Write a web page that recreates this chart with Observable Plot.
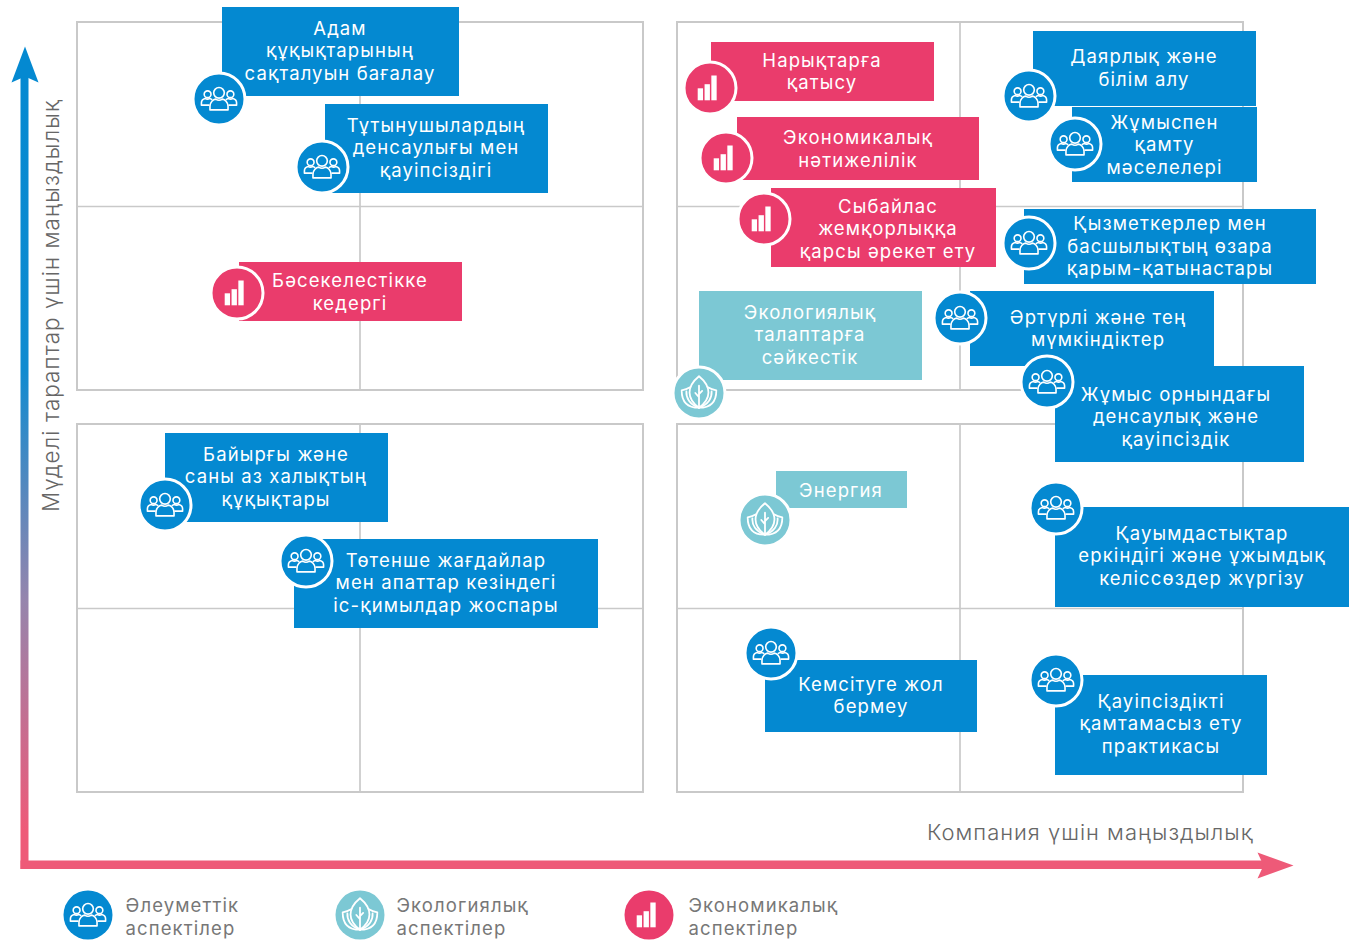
<!DOCTYPE html>
<html>
<head>
<meta charset="utf-8">
<script src="https://cdn.jsdelivr.net/npm/d3@7"></script>
<script src="https://cdn.jsdelivr.net/npm/@observablehq/plot@0.6"></script>
<style>html,body{margin:0;padding:0;background:#fff}svg{display:block}</style>
</head>
<body>
<div id="chart"></div>
<script>
// Topics, one entry per position
const labels = [
 "Адам\nқұқықтарының\nсақталуын бағалау","Тұтынушылардың\nденсаулығы мен\nқауіпсіздігі","Бәсекелестікке\nкедергі",
 "Байырғы және\nсаны аз халықтың\nқұқықтары","Төтенше жағдайлар\nмен апаттар кезіндегі\nіс-қимылдар жоспары",
 "Нарықтарға\nқатысу","Экономикалық\nнәтижелілік","Сыбайлас\nжемқорлыққа\nқарсы әрекет ету",
 "Экологиялық\nталаптарға\nсәйкестік","Энергия","Кемсітуге жол\nбермеу",
 "Даярлық және\nбілім алу","Жұмыспен\nқамту\nмәселелері","Қызметкерлер мен\nбасшылықтың өзара\nқарым-қатынастары",
 "Әртүрлі және тең\nмүмкіндіктер","Жұмыс орнындағы\nденсаулық және\nқауіпсіздік",
 "Қауымдастықтар\nеркіндігі және ұжымдық\nкеліссөздер жүргізу","Қауіпсіздікті\nқамтамасыз ету\nпрактикасы"];
const aspects = ["s","s","e","s","s","e","e","e","g","g","s","s","s","s","s","s","s","s"];
const boxX1 = [222,325,239,165,294,711,737,771,699,776,765,1033,1072,1024,970,1055,1055,1055];
const boxX2 = [459,548,462,388,598,934,979,996,922,907,977,1256,1257,1316,1214,1304,1349,1267];
const boxY1 = [7,104,262,433,539,42,117,188,291,471,660,31,107,209,291,366,507,675];
const boxY2 = [96,193,321,522,628,101,180,267,380,508,732,106,182,284,366,462,607,775];
const iconX = [218.5,321.5,236.5,164.5,305.5,709.5,725.5,763.5,698.5,764.5,770.5,1028.5,1074.5,1028.5,959.5,1046.5,1055.5,1055.5];
const iconY = [98.5,166.5,292.5,504.5,560.5,87.5,157.5,218.5,392.5,519.5,652.5,95.5,143.5,242.5,317.5,381.5,507.5,679.5];
const textX = [339.5,435.5,349.5,275.5,445.5,821.5,857.5,887.5,809.5,840.5,870.5,1143.5,1164,1169.5,1097.5,1175.5,1201.5,1160.5];
const textY = [49.5,146.5,291,475.5,581.5,70.5,148,227.5,333.5,489.5,694.5,67,143.5,245,327.5,415.5,554.5,722.5];

// Legend
const legendLabels = ["Әлеуметтік\nаспектілер","Экологиялық\nаспектілер","Экономикалық\nаспектілер"];
const legendAspects = ["s","g","e"];
const legendX = [87.5,359.5,648.5];
const legendTextX = [125,396,688];
const legendIconY = 914.5;
const legendTextY = 916;

// Matrix panels
const panelX1 = [77,677,77,677];
const panelX2 = [643,1243,643,1243];
const panelY1 = [22,22,424,424];
const panelY2 = [390,390,792,792];
const panelMidX = [359.5,959.5,359.5,959.5];
const panelMidY = [206,206,608,608];

// Axis arrows
const upShaft = {x1:20.5,x2:28.5,y1:76,y2:869};
const rightShaft = {x1:20.5,x2:1266,y1:860.5,y2:869};
const upHead = [[24.5,46],[38,82],[24.5,76],[11,82]];
const rightHead = [[1293,865],[1257,878],[1263,865],[1257,852]];

const colors = {s:"#0489d1",g:"#7cc8d4",e:"#ea3c6c"};
const iconSize = {s:38,g:42,e:41};
const gridColor = "#c9c9c9";
const font = "Inter, 'Noto Sans', sans-serif";

const wrap = s => "data:image/svg+xml," + encodeURIComponent(`<svg xmlns="http://www.w3.org/2000/svg" viewBox="0 0 40 40">${s}</svg>`);
const line = 'fill="none" stroke="#fff" stroke-width="1.7" stroke-linejoin="round" stroke-linecap="round"';
const icons = {
 s: wrap(`<g ${line}><circle cx="20" cy="13.5" r="5.6"/><path d="M10.5 31.5v-3.8c0-4.500 3.500-7.200 6-7.600 2 1.400 5 1.400 7 0 2.500.4 6 3.100 6 7.600v3.800z"/><circle cx="8" cy="15" r="3.600"/><path d="M9.500 26.500H1.500v-2.500c0-2.600 2.200-4.200 4-4.600 1.400.9 3.200.9 4.600 0 .8.2 1.600.6 2.200 1.100"/><circle cx="32" cy="15" r="3.600"/><path d="M30.500 26.500h8v-2.500c0-2.600-2.200-4.200-4-4.600-1.400.9-3.200.9-4.600 0-.8.2-1.600.6-2.200 1.100"/></g>`),
 g: wrap(`<g ${line}><path d="M20 4c5.500 4.500 9 9.500 9 15.500 0 5.500-3.500 10.500-9 14.500-5.500-4-9-9-9-14.500C11 13.500 14.500 8.500 20 4z"/><path d="M20 34V13M20 24l-3.500-4M20 21l3-3"/><path d="M11.500 14.500C9 16 6 17 3.500 17.500c0 8.500 3 16.500 16.500 16.500"/><path d="M28.500 14.500c2.500 1.500 5.500 2.500 8 3 0 8.500-3 16.500-16.500 16.500"/><path d="M8 18.500c-.5 6 3 12.500 12 15.500M32 18.500c.5 6-3 12.500-12 15.500"/></g>`),
 e: wrap(`<g fill="#fff"><rect x="8" y="20.300" width="5.200" height="11.700"/><rect x="14.700" y="16.300" width="5.200" height="15.700"/><rect x="21.300" y="7.800" width="5.200" height="24.200"/></g>`)
};

const idx = d3.range(labels.length);
const panels = d3.range(4);
const legendIdx = d3.range(3);
const gradient = () => {
  const s = d3.create("svg:defs");
  const g = s.append("linearGradient").attr("id","axisGrad").attr("x1",0).attr("x2",0).attr("y1",0).attr("y2",1);
  [[0,"#0489d1"],[0.37,"#0f8bd0"],[0.66,"#9585ad"],[0.95,"#ee5a78"],[1,"#ee5a78"]].forEach(([o,c])=>g.append("stop").attr("offset",o).attr("stop-color",c));
  return s.node();
};

const chart = Plot.plot({
  width:1351,height:941,
  marginTop:0,marginRight:0,marginBottom:0,marginLeft:0,
  x:{domain:[0,1351],range:[0,1351],axis:null},
  y:{domain:[0,941],range:[0,941],axis:null},
  style:{background:"#fff",fontFamily:font},
  marks:[
    gradient,
    Plot.rect(panels,{x1:i=>panelX1[i],x2:i=>panelX2[i],y1:i=>panelY1[i],y2:i=>panelY2[i],fill:"none",stroke:gridColor,strokeWidth:2}),
    Plot.ruleX(panels,{x:i=>panelMidX[i],y1:i=>panelY1[i],y2:i=>panelY2[i],stroke:gridColor,strokeWidth:1.7}),
    Plot.ruleY(panels,{y:i=>panelMidY[i],x1:i=>panelX1[i],x2:i=>panelX2[i],stroke:gridColor,strokeWidth:1.7}),
    Plot.rect([upShaft],{x1:"x1",x2:"x2",y1:"y1",y2:"y2",fill:"url(#axisGrad)"}),
    Plot.rect([rightShaft],{x1:"x1",x2:"x2",y1:"y1",y2:"y2",fill:"#ee5a78"}),
    Plot.line(upHead,{x:"0",y:"1",fill:colors.s,stroke:"none",curve:"linear-closed"}),
    Plot.line(rightHead,{x:"0",y:"1",fill:"#ee5a78",stroke:"none",curve:"linear-closed"}),
    Plot.text(["Мүделі тараптар үшін маңыздылық"],{x:[51],y:[305],rotate:-90,fontSize:22.5,fill:"#666",fontWeight:300,className:"axis-text"}),
    Plot.text(["Компания үшін маңыздылық"],{x:[1253],y:[832.5],textAnchor:"end",fontSize:22,fill:"#666",fontWeight:300,className:"axis-text"}),
    Plot.rect(idx,{x1:i=>boxX1[i],x2:i=>boxX2[i],y1:i=>boxY1[i],y2:i=>boxY2[i],fill:i=>colors[aspects[i]]}),
    Plot.dot(idx,{x:i=>iconX[i],y:i=>iconY[i],r:26,fill:i=>colors[aspects[i]],stroke:"#fff",strokeWidth:3}),
    Plot.image(idx,{x:i=>iconX[i],y:i=>iconY[i],width:i=>iconSize[aspects[i]],height:i=>iconSize[aspects[i]],src:i=>icons[aspects[i]]}),
    Plot.text(idx,{x:i=>textX[i],y:i=>textY[i],text:i=>labels[i],fill:"#fff",fontSize:18.5,lineHeight:1.215,fontWeight:400,className:"body-text"}),
    Plot.dot(legendIdx,{x:i=>legendX[i],y:legendIconY,r:24.5,fill:i=>colors[legendAspects[i]]}),
    Plot.image(legendIdx,{x:i=>legendX[i],y:legendIconY,width:i=>iconSize[legendAspects[i]],height:i=>iconSize[legendAspects[i]],src:i=>icons[legendAspects[i]]}),
    Plot.text(legendIdx,{x:i=>legendTextX[i],y:legendTextY,text:i=>legendLabels[i],textAnchor:"start",fill:"#777",fontSize:18.5,lineHeight:1.215,className:"body-text"})
  ]
});
d3.select(chart).selectAll(".axis-text text").style("letter-spacing","0.045em");
d3.select(chart).selectAll(".body-text text").style("letter-spacing","0.06em");
document.getElementById("chart").append(chart);
</script>
</body>
</html>
